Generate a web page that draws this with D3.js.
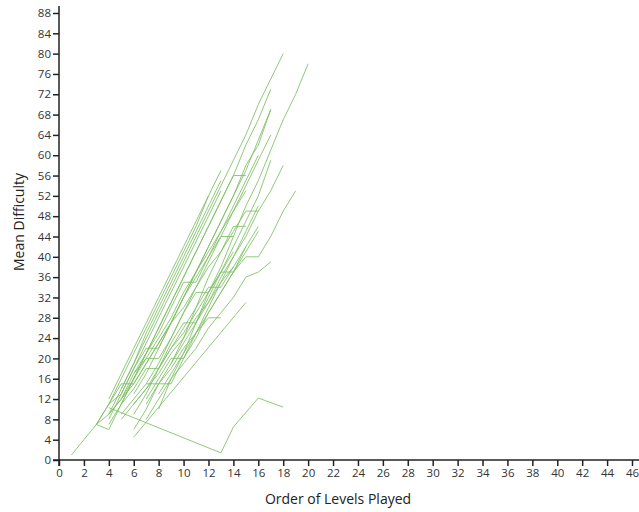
<!DOCTYPE html>
<html>
<head>
<meta charset="utf-8">
<script src="https://cdn.jsdelivr.net/npm/d3@7"></script>
<style>
  html, body { margin: 0; padding: 0; background: #fff; }
  svg { display: block; }
  .tick text { font-family: "Open Sans", "Noto Sans", sans-serif; font-size: 11.5px; fill: #333; }
  .axis-title { font-family: "Open Sans", "Noto Sans", sans-serif; font-size: 14px; fill: #222; }
</style>
</head>
<body>
<svg id="chart" width="639" height="512"></svg>
<script>
// Axis ticks
const xTicks = d3.range(0, 47, 2);
const yTicks = d3.range(0, 89, 4);

// One series per player: [order of level played, mean difficulty]
const s01 = [[1,1],[2,4],[3,7],[4,11],[5,16],[6,21],[7,26],[8,31],[9,36],[10,41],[11,46],[12,52],[13,57]];
const s02 = [[3,7],[4,9],[5,14],[6,19],[7,24],[8,29],[9,34],[10,39],[11,44],[12,49],[13,54],[14,59],[15,64],[16,70],[17,75],[18,80]];
const s03 = [[3,7],[4,6],[5,11],[6,16],[7,21],[8,26],[9,31],[10,36],[11,41],[12,46],[13,51],[14,56],[15,62],[16,67],[17,73]];
const s04 = [[4,11],[5,13],[6,18],[7,22],[8,22],[9,27],[10,32],[11,37],[12,42],[13,47],[14,52],[15,57],[16,63],[17,69]];
const s05 = [[8,10],[9,16],[10,21],[11,27],[12,33],[13,38],[14,44],[15,50],[16,55],[17,61],[18,67],[19,72],[20,78]];
const s06 = [[6,13],[7,17],[8,22],[9,27],[10,32],[11,37],[12,42],[13,47],[14,52],[15,58],[16,62],[17,69]];
const s07 = [[6,9],[7,13],[8,18],[9,23],[10,27],[11,27],[12,32],[13,37],[14,42],[15,47],[16,52],[17,59]];
const s08 = [[7,12],[8,16],[9,20],[10,20],[11,25],[12,30],[13,35],[14,40],[15,44],[16,49],[17,53],[18,58]];
const s09 = [[8,13],[9,17],[10,21],[11,25],[12,29],[13,33],[14,37],[15,40],[16,40],[17,44],[18,49],[19,53]];
const s10 = [[6,6],[7,10],[8,15],[9,15],[10,20],[11,24],[12,29],[13,33],[14,37],[15,42],[16,46]];
const s11 = [[7,8],[8,12],[9,16],[10,19],[11,22],[12,26],[13,29],[14,32],[15,36],[16,37],[17,39]];
const s12 = [[6,4.5],[15,31]];
const s13 = [[4,10.3],[13,1.4],[14,6.5],[16,12.2],[18,10.4]];
const s14 = [[4,9],[5,12],[6,16],[7,20],[8,24],[9,28],[10,33],[11,37],[12,41],[13,45],[14,49],[15,53]];
const s15 = [[5,11],[6,16],[7,21],[8,26],[9,31],[10,36],[11,41],[12,46],[13,51],[14,56],[15,56]];
const s16 = [[5,12],[6,15],[7,19],[8,23],[9,27],[10,30],[11,34],[12,38],[13,41],[14,45],[15,49],[16,49]];
const s17 = [[3,7],[4,11],[5,15],[6,15],[7,19],[8,23],[9,27],[10,32],[11,36],[12,40],[13,44],[14,44]];
const s18 = [[4,7],[5,11],[6,14],[7,18],[8,18],[9,22],[10,26],[11,30],[12,34],[13,34],[14,38],[15,42]];
const s19 = [[5,9],[6,12],[7,15],[8,15],[9,18],[10,22],[11,25],[12,28],[13,28]];
const s20 = [[4,8],[5,13],[6,18],[7,23],[8,28],[9,33],[10,38],[11,43],[12,48],[13,53]];
const s21 = [[5,14],[6,19],[7,25],[8,30],[9,35],[10,40],[11,45],[12,50],[13,55]];
const s22 = [[6,11],[7,14],[8,18],[9,22],[10,25],[11,29],[12,33],[13,37],[14,37],[15,41],[16,45]];
const s23 = [[7,15],[8,19],[9,24],[10,29],[11,34],[12,39],[13,44],[14,49],[15,54],[16,59],[17,64]];
const s24 = [[4,12],[5,17],[6,22],[7,27],[8,32],[9,37],[10,42],[11,47],[12,52]];
const s25 = [[6,17],[7,20],[8,20],[9,24],[10,29],[11,33],[12,33],[13,37],[14,41]];
const s26 = [[5,8],[6,11],[7,14],[8,17],[9,21],[10,24],[11,28],[12,31],[13,35],[14,38]];
const s27 = [[7,11],[8,15],[9,19],[10,23],[11,27],[12,31],[13,36],[14,40],[15,45],[16,50]];
const s28 = [[4,9],[5,12],[6,17],[7,21],[8,25],[9,30],[10,35],[11,35],[12,40],[13,45],[14,50],[15,55],[16,60]];
const s29 = [[9,19],[10,24],[11,30],[12,36],[13,41],[14,46],[15,46]];

const series = [s01,s02,s03,s04,s05,s06,s07,s08,s09,s10,s11,s12,s13,s14,s15,
                s16,s17,s18,s19,s20,s21,s22,s23,s24,s25,s26,s27,s28,s29];

const svg = d3.select("#chart");

const x = d3.scaleLinear().domain([0, 46]).range([59, 632]);
const y = d3.scaleLinear().domain([0, 88]).range([460, 13]);

// Player trajectories
const line = d3.line().x(d => x(d[0])).y(d => y(d[1]));
svg.append("g")
  .selectAll("path")
  .data(series)
  .join("path")
  .attr("d", line)
  .attr("fill", "none")
  .attr("stroke", "#7cc064")
  .attr("stroke-opacity", 0.85)
  .attr("stroke-width", 1)
  .attr("stroke-linejoin", "round");

// X axis
const gx = svg.append("g")
  .attr("transform", `translate(0,${y(0)})`)
  .call(d3.axisBottom(x).tickValues(xTicks).tickSize(6).tickPadding(3).tickFormat(d3.format("d")));
gx.select(".domain").attr("d", `M${x(0) - 6},0H639`).attr("stroke", "#222").attr("stroke-width", 1.5);
gx.selectAll(".tick line").attr("stroke", "#222").attr("stroke-width", 1.5);

// Y axis
const gy = svg.append("g")
  .attr("transform", `translate(${x(0)},0)`)
  .call(d3.axisLeft(y).tickValues(yTicks).tickSize(6).tickPadding(2).tickFormat(d3.format("d")));
gy.select(".domain").attr("d", `M0,${y(0) + 6}V6`).attr("stroke", "#222").attr("stroke-width", 1.5);
gy.selectAll(".tick line").attr("stroke", "#222").attr("stroke-width", 1.5);

// Axis titles
svg.append("text")
  .attr("class", "axis-title")
  .attr("x", 338).attr("y", 504)
  .attr("text-anchor", "middle")
  .text("Order of Levels Played");

svg.append("text")
  .attr("class", "axis-title")
  .attr("transform", "translate(24,222) rotate(-90)")
  .attr("text-anchor", "middle")
  .text("Mean Difficulty");
</script>
</body>
</html>
